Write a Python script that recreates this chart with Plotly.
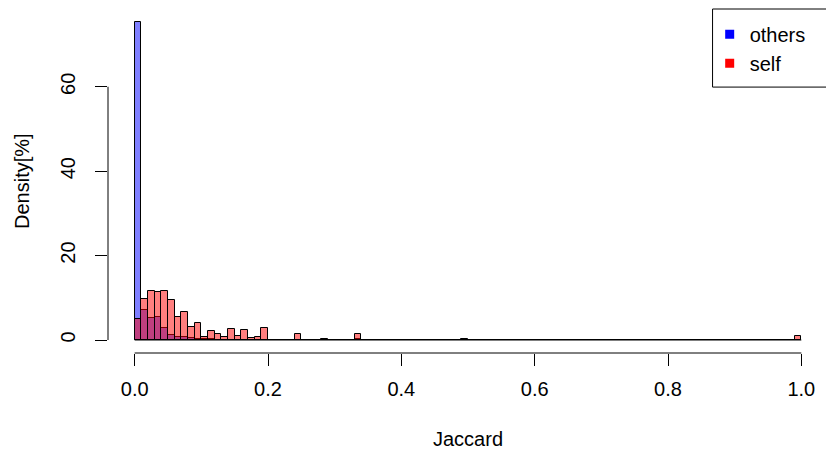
import plotly.graph_objects as go

# ---- data (percent of pairs per Jaccard bin of width 0.01, bins 0.00-1.00) ----
bin_width = 0.01
n_bins = 100

others_nonzero = {0: 75.4, 1: 7.1, 2: 5.3, 3: 5.4, 4: 2.9, 5: 1.3, 6: 0.8, 7: 0.8,
                  8: 0.4, 9: 0.3, 10: 0.15, 11: 0.15, 12: 0.1, 13: 0.05, 14: 0.1,
                  15: 0.05, 16: 0.1, 19: 0.1, 24: 0.1, 33: 0.15, 49: 0.15, 66: 0.1}
self_nonzero = {0: 4.9, 1: 9.7, 2: 11.6, 3: 11.4, 4: 11.6, 5: 9.5, 6: 5.5, 7: 6.55,
                8: 3.15, 9: 4.1, 10: 0.8, 11: 2.2, 12: 1.35, 13: 0.8, 14: 2.6,
                15: 0.95, 16: 2.3, 17: 0.47, 18: 0.6, 19: 2.84, 21: 0.1, 23: 0.1,
                24: 1.4, 27: 0.1, 28: 0.2, 30: 0.1, 31: 0.1, 32: 0.1, 33: 1.4,
                36: 0.1, 99: 1.0}

others_vals = [others_nonzero.get(i, 0.0) for i in range(n_bins)]
self_vals = [self_nonzero.get(i, 0.0) for i in range(n_bins)]
bin_centers = [(i + 0.5) * bin_width for i in range(n_bins)]

x_ticks = [0.0, 0.2, 0.4, 0.6, 0.8, 1.0]
x_tick_text = ["0.0", "0.2", "0.4", "0.6", "0.8", "1.0"]
y_ticks = [0, 20, 40, 60]
y_tick_text = ["0", "20", "40", "60"]

FONT = "Liberation Sans, Arial, Helvetica, sans-serif"

fig = go.Figure()
fig.add_trace(go.Bar(x=bin_centers, y=others_vals, width=bin_width, name="others",
                     marker=dict(color="rgba(0,0,255,0.5)", line=dict(color="black", width=1)),
                     showlegend=False))
fig.add_trace(go.Bar(x=bin_centers, y=self_vals, width=bin_width, name="self",
                     marker=dict(color="rgba(255,0,0,0.5)", line=dict(color="black", width=1)),
                     showlegend=False))
# legend keys (solid squares like R's legend fill boxes)
fig.add_trace(go.Scatter(x=[None], y=[None], mode="markers", name="others",
                         marker=dict(symbol="square", size=9, color="blue")))
fig.add_trace(go.Scatter(x=[None], y=[None], mode="markers", name="self",
                         marker=dict(symbol="square", size=9, color="red")))

fig.update_layout(
    width=826, height=455,
    margin=dict(l=108, r=0, t=9, b=102),
    paper_bgcolor="white", plot_bgcolor="white",
    barmode="overlay", bargap=0,
    font=dict(family=FONT, size=20, color="black"),
    showlegend=True,
    legend=dict(x=0.838, xanchor="left", y=0.983, yanchor="top",
                bgcolor="rgba(0,0,0,0)", borderwidth=0,
                font=dict(family=FONT, size=20, color="black")),
    xaxis=dict(range=[-0.04, 1.037], showgrid=False, zeroline=False, showline=False,
               tickmode="array", tickvals=x_ticks, ticktext=x_tick_text,
               ticks="outside", ticklen=12, tickwidth=1, tickcolor="black",
               ticklabelstandoff=6, fixedrange=True),
    yaxis=dict(range=[-3.08, 78.42], showgrid=False, zeroline=False, showline=False,
               tickmode="array", tickvals=y_ticks, ticktext=y_tick_text,
               ticks="outside", ticklen=12, tickwidth=1, tickcolor="black",
               tickangle=-90, ticklabelstandoff=12, fixedrange=True),
    shapes=[
        # x axis line spanning the tick range
        dict(type="line", xref="x", yref="paper", x0=x_ticks[0], x1=x_ticks[-1], y0=0, y1=0,
             line=dict(color="black", width=1)),
        # y axis line spanning the tick range
        dict(type="line", xref="paper", yref="y", x0=0, x1=0, y0=y_ticks[0], y1=y_ticks[-1],
             line=dict(color="black", width=1)),
        # bar baseline (zero-height histogram cells)
        dict(type="line", xref="x", yref="y", x0=x_ticks[0], x1=x_ticks[-1], y0=0, y1=0,
             line=dict(color="black", width=1), layer="above"),
        # legend box
        dict(type="rect", xref="paper", yref="paper", x0=0.842, x1=1.01, y0=0.773, y1=1.0,
             line=dict(color="black", width=1), fillcolor="rgba(0,0,0,0)"),
    ],
    annotations=[
        dict(text="Jaccard", xref="paper", yref="paper", x=0.5014, y=0, xanchor="center",
             yanchor="middle", yshift=-86, showarrow=False,
             font=dict(family=FONT, size=20, color="black")),
        dict(text="Density[%]", xref="paper", yref="paper", x=0, y=0.5, xanchor="center",
             yanchor="middle", xshift=-86, textangle=-90, showarrow=False,
             font=dict(family=FONT, size=20, color="black")),
    ],
)

fig.write_html("out.html")
